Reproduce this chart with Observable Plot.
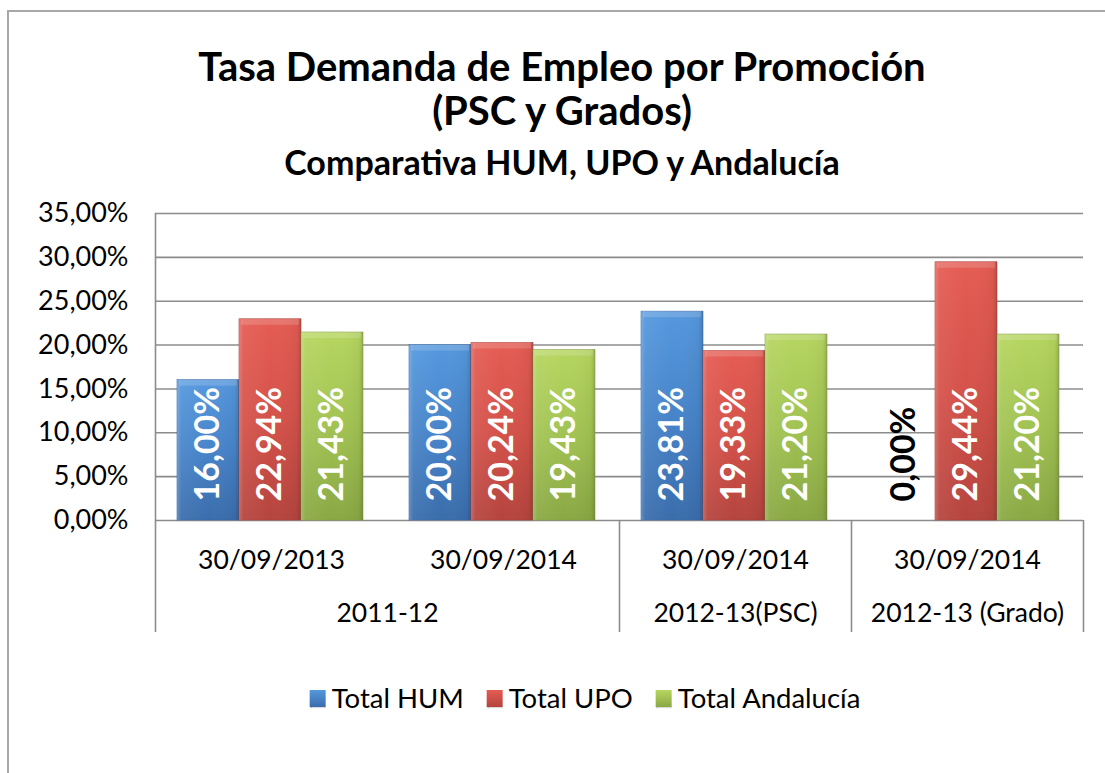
<!DOCTYPE html>
<html><head><meta charset="utf-8">
<script src="https://cdn.jsdelivr.net/npm/d3@7"></script>
<script src="https://cdn.jsdelivr.net/npm/@observablehq/plot@0.6"></script>
<style>
body{margin:0;background:#fff;}
#page{position:relative;width:1105px;height:773px;overflow:hidden;font-family:Lato,"Open Sans",sans-serif;color:#000;background:#fff;}
#frame{position:absolute;left:7px;top:10px;width:1200px;height:900px;border:2px solid #a8a8a8;box-sizing:border-box;}
.t{position:absolute;left:0;width:1124px;text-align:center;font-weight:700;white-space:nowrap;}
#chart{position:absolute;left:0;top:190px;}
#legend{position:absolute;top:680px;left:585px;transform:translateX(-50%);display:flex;align-items:center;font-size:27.5px;line-height:36px;white-space:nowrap;}
.item{display:flex;align-items:center;margin-right:23px}
.item:last-child{margin-right:0}
.sw{width:16px;height:17px;margin-right:6px;box-shadow:0.5px 1px 1px rgba(0,0,0,0.3);}
</style></head>
<body>
<svg width="0" height="0" style="position:absolute">
  <defs>
    <linearGradient id="g0" x1="0" y1="0" x2="0" y2="1">
      <stop offset="0" stop-color="#5598de"/><stop offset="0.5" stop-color="#4784c9"/><stop offset="1" stop-color="#3a6dac"/>
    </linearGradient>
    <linearGradient id="g1" x1="0" y1="0" x2="0" y2="1">
      <stop offset="0" stop-color="#e55c53"/><stop offset="0.5" stop-color="#d4524a"/><stop offset="1" stop-color="#b5443e"/>
    </linearGradient>
    <linearGradient id="g2" x1="0" y1="0" x2="0" y2="1">
      <stop offset="0" stop-color="#b6d660"/><stop offset="0.5" stop-color="#a2c353"/><stop offset="1" stop-color="#8aa844"/>
    </linearGradient>
    <linearGradient id="bevel" x1="0" y1="0" x2="1" y2="0">
      <stop offset="0" stop-color="#fff" stop-opacity="0.22"/>
      <stop offset="0.07" stop-color="#fff" stop-opacity="0.06"/>
      <stop offset="0.5" stop-color="#fff" stop-opacity="0"/>
      <stop offset="0.93" stop-color="#000" stop-opacity="0.04"/>
      <stop offset="1" stop-color="#000" stop-opacity="0.16"/>
    </linearGradient>
  </defs>
</svg>
<div id="page">
  <div id="frame"></div>
  <div class="t" style="top:44px;font-size:40px;line-height:44px;">Tasa Demanda de Empleo por Promoción<br>(PSC y Grados)</div>
  <div class="t" style="top:142px;font-size:34px;line-height:40px;">Comparativa HUM, UPO y Andalucía</div>
  <div id="chart"></div>
  <div id="legend"></div>
</div>
<script>
// ---- data ----
const categories = ["30/09/2013", "30/09/2014", "30/09/2014", "30/09/2014"];
const groupLabels = ["2011-12", "2012-13(PSC)", "2012-13 (Grado)"];
const groupSpans = [2, 1, 1];
const series = ["Total HUM", "Total UPO", "Total Andalucía"];
const totalHUM = [16.00, 20.00, 23.81, 0.00];
const totalUPO = [22.94, 20.24, 19.33, 29.44];
const totalAndalucia = [21.43, 19.43, 21.20, 21.20];
const yTicks = [0, 5, 10, 15, 20, 25, 30, 35];

// ---- layout ----
const values = [totalHUM, totalUPO, totalAndalucia];
const W = 1105, mL = 155, mR = 22, mT = 23, frameH = 307, mB = 130;
const yMax = 35;
const depth = 112 * yMax / frameH; // category axis depth below 0, in y units
const catW = (W - mL - mR) / categories.length;
const pad = 22 / catW, bw = 62 / catW;
const fmt = v => v.toFixed(2).replace(".", ",") + "%";

const bars = [];
series.forEach((s, si) => values[si].forEach((v, ci) => {
  const x1 = ci + pad + si * bw;
  bars.push({s, si, ci, v, x1, x2: x1 + bw, xc: x1 + bw / 2});
}));

const groups = [];
let start = 0;
groupLabels.forEach((g, i) => { groups.push({label: g, start, end: start + groupSpans[i]}); start += groupSpans[i]; });
const dividers = [{x: 0, top: yMax}].concat(groups.map(g => ({x: g.end, top: 0})));

const gridColor = "#8c8c8c";
const barMarks = series.map((s, si) =>
  Plot.rectY(bars.filter(d => d.si === si && d.v > 0), {
    x1: "x1", x2: "x2", y1: 0, y2: "v", fill: `url(#g${si})`,
    stroke: ["#3a6aa5", "#a8403a", "#82a040"][si], strokeWidth: 0.6
  }));

const plot = Plot.plot({
  width: W, height: mT + frameH + mB,
  marginLeft: mL, marginRight: mR, marginTop: mT, marginBottom: mB,
  x: {domain: [0, categories.length], axis: null},
  y: {domain: [0, yMax], axis: null},
  style: {fontFamily: "Lato, 'Open Sans', sans-serif", fontSize: "27px", color: "#000", background: "transparent", overflow: "visible"},
  marks: [
    Plot.ruleY(yTicks, {y: d => d, stroke: gridColor, strokeWidth: 1.6}),
    Plot.text(yTicks, {y: d => d, frameAnchor: "left", dx: -27, textAnchor: "end", text: fmt, fontSize: 27, fill: "#000"}),
    Plot.ruleX(dividers, {x: "x", y1: "top", y2: -depth, stroke: gridColor, strokeWidth: 1.6}),
    ...barMarks,
    Plot.rectY(bars.filter(d => d.v > 0), {x1: "x1", x2: "x2", y1: 0, y2: "v", fill: "url(#bevel)"}),
    Plot.rectY(bars.filter(d => d.v > 0), {x1: "x1", x2: "x2", y1: "v", y2: "v", insetBottom: -6, insetLeft: 2, insetRight: 2, fill: "#fff", fillOpacity: 0.16}),
    Plot.text(bars.filter(d => d.v > 0), {x: "xc", y: 0, dy: -19, text: d => fmt(d.v), rotate: -90, textAnchor: "start", fill: "#fff", fontWeight: "bold", fontSize: 34}),
    Plot.text(bars.filter(d => d.v === 0), {x: "xc", y: 0, dy: -19, text: d => fmt(d.v), rotate: -90, textAnchor: "start", fill: "#000", fontWeight: "bold", fontSize: 34}),
    Plot.text(categories, {x: (d, i) => i + 0.5, y: 0, dy: 40, text: d => d, fontSize: 26.5, fill: "#000"}),
    Plot.text(groups, {x: d => (d.start + d.end) / 2, y: 0, dy: 93, text: "label", fontSize: 26.5, fill: "#000"})
  ]
});
document.getElementById("chart").appendChild(plot);

// legend
const legend = document.getElementById("legend");
const swGrad = ["linear-gradient(#5598de,#3a6dac)", "linear-gradient(#e55c53,#b5443e)", "linear-gradient(#b6d660,#8aa844)"];
series.forEach((s, i) => {
  const it = document.createElement("div"); it.className = "item";
  const sw = document.createElement("div"); sw.className = "sw"; sw.style.background = swGrad[i];
  const tx = document.createElement("span"); tx.textContent = s;
  it.appendChild(sw); it.appendChild(tx); legend.appendChild(it);
});
</script>
</body></html>
